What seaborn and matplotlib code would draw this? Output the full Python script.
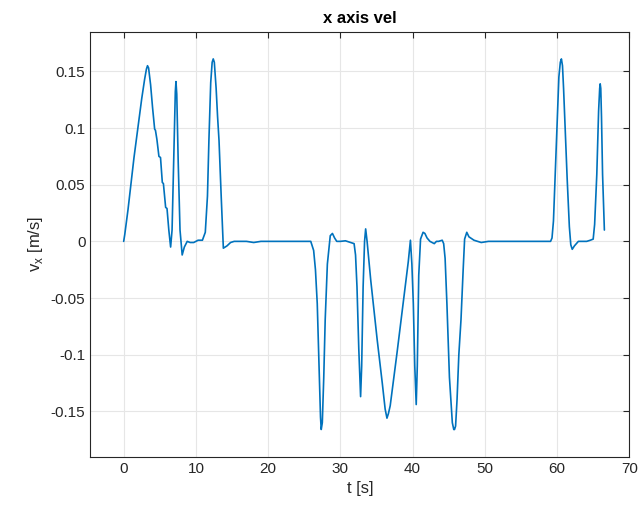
import matplotlib
matplotlib.use("Agg")
import matplotlib.pyplot as plt
import matplotlib.ticker as mticker
import pandas as pd
import seaborn as sns

# (time [s], v_x [m/s]) samples, by segment
seg_ramp = [(0.0, 0.0), (0.15, 0.006), (0.6, 0.028), (1.0, 0.050), (1.43, 0.074), (2.0, 0.102), (2.5, 0.126),
            (2.9, 0.143), (3.15, 0.152), (3.3, 0.155), (3.45, 0.153), (3.73, 0.138), (4.0, 0.118), (4.29, 0.099),
            (4.4, 0.098), (4.6, 0.090), (4.88, 0.075), (5.1, 0.074), (5.35, 0.052), (5.5, 0.051), (5.81, 0.030),
            (6.0, 0.029), (6.25, 0.010), (6.5, -0.005)]
seg_peaks1 = [(6.7, 0.010), (6.95, 0.080), (7.15, 0.132), (7.24, 0.141), (7.35, 0.130), (7.55, 0.070),
              (7.8, 0.010), (8.1, -0.012), (8.4, -0.005), (8.8, 0.0), (9.2, -0.001), (9.7, -0.001),
              (10.3, 0.001), (10.9, 0.001), (11.3, 0.008), (11.6, 0.040), (11.8, 0.089), (12.05, 0.140),
              (12.25, 0.158), (12.4, 0.161), (12.55, 0.158), (12.8, 0.135), (13.0, 0.110), (13.2, 0.089),
              (13.5, 0.040), (13.8, -0.006), (14.3, -0.004), (14.8, -0.001), (15.3, 0.0)]
seg_flat1 = [(16.0, 0.0), (17.0, 0.0), (18.0, -0.001), (19.0, 0.0), (20.0, 0.0), (21.0, 0.0), (22.0, 0.0),
             (23.0, 0.0), (24.0, 0.0), (25.0, 0.0), (25.9, 0.0)]
seg_neg = [(26.3, -0.008), (26.55, -0.025), (26.8, -0.055), (27.05, -0.110), (27.25, -0.155), (27.35, -0.166),
           (27.5, -0.160), (27.7, -0.120), (27.9, -0.069), (28.2, -0.020), (28.6, 0.005), (28.9, 0.007),
           (29.2, 0.003), (29.5, 0.0), (30.0, 0.0), (30.7, 0.0005), (31.4, -0.001), (31.9, -0.002),
           (32.1, -0.012), (32.3, -0.040), (32.55, -0.095), (32.8, -0.137), (32.95, -0.110), (33.15, -0.040),
           (33.35, 0.000), (33.5, 0.011), (33.7, 0.000), (34.2, -0.034), (35.1, -0.087), (35.8, -0.125),
           (36.2, -0.148), (36.45, -0.156), (36.65, -0.152), (36.9, -0.145), (37.85, -0.098), (38.8, -0.049),
           (39.4, -0.018), (39.7, 0.001), (39.9, -0.020), (40.1, -0.055), (40.3, -0.110), (40.5, -0.144),
           (40.65, -0.110), (40.85, -0.030), (41.1, 0.002), (41.45, 0.008), (41.7, 0.007), (42.0, 0.003),
           (42.4, 0.000), (42.7, -0.001), (43.0, -0.002), (43.3, 0.000), (43.6, 0.000), (44.1, 0.001),
           (44.3, -0.002), (44.5, -0.015), (44.75, -0.055), (45.1, -0.120), (45.5, -0.160), (45.7, -0.166),
           (45.8, -0.166), (45.95, -0.163), (46.15, -0.140), (46.4, -0.100), (46.7, -0.069), (47.0, -0.025),
           (47.2, 0.002), (47.5, 0.008), (47.8, 0.004), (48.5, 0.001)]
seg_flat2 = [(49.5, -0.001), (50.5, 0.0), (51.5, 0.0), (52.5, 0.0), (53.5, 0.0), (54.5, 0.0), (55.5, 0.0),
             (56.5, 0.0), (57.5, 0.0), (58.5, 0.0), (59.1, 0.0)]
seg_end = [(59.3, 0.003), (59.5, 0.018), (59.75, 0.060), (60.0, 0.103), (60.25, 0.145), (60.45, 0.158),
           (60.6, 0.161), (60.75, 0.155), (60.9, 0.135), (61.1, 0.103), (61.4, 0.055), (61.7, 0.013),
           (61.9, -0.003), (62.1, -0.007), (62.4, -0.004), (62.95, 0.0), (63.5, 0.0), (64.1, 0.0),
           (64.6, 0.001), (65.0, 0.002), (65.2, 0.015), (65.5, 0.059), (65.75, 0.115), (65.9, 0.135),
           (65.97, 0.139), (66.05, 0.135), (66.15, 0.110), (66.3, 0.059), (66.55, 0.010)]

x_ticks = [0, 10, 20, 30, 40, 50, 60, 70]
y_ticks = [-0.15, -0.1, -0.05, 0, 0.05, 0.1, 0.15]

samples = seg_ramp + seg_peaks1 + seg_flat1 + seg_neg + seg_flat2 + seg_end
df = pd.DataFrame(samples, columns=["t", "vx"])

sns.set_style("white")
plt.rcParams['font.family'] = ['Liberation Sans', 'DejaVu Sans']

fig = plt.figure(figsize=(6.4, 5.13), dpi=100)
ax = fig.add_axes([90.3/640, 56.3/513, 539/640, 425/513])

sns.lineplot(data=df, x="t", y="vx", ax=ax, color="#0072BD", linewidth=1.2, estimator=None, sort=False)

ax.set_xlim(-4.62, 70)
ax.set_ylim(-0.19, 0.185)
ax.set_xticks(x_ticks)
ax.set_yticks(y_ticks)
ax.yaxis.set_major_formatter(mticker.FuncFormatter(lambda v, p: ("%g" % round(v, 4))))
ax.grid(True, color="#e6e6e6", linewidth=0.8)
ax.set_axisbelow(True)
for s in ax.spines.values():
    s.set_color("#262626")
    s.set_linewidth(0.8)
ax.tick_params(axis="both", direction="in", length=4, width=0.8, colors="#262626",
               labelsize=11, top=True, right=True, labelcolor="#262626")
ax.set_xlabel("t [s]", fontsize=12, color="#262626")
ax.set_ylabel("v$_{\\mathregular{x}}$ [m/s]", fontsize=12, color="#262626")
ax.set_title("x axis vel", fontsize=12, fontweight="bold", color="black")

fig.savefig("out.png", dpi=100)
